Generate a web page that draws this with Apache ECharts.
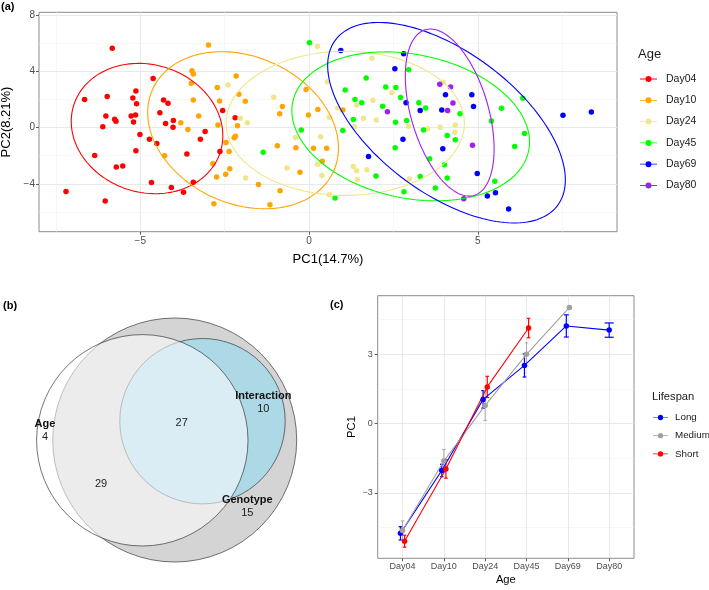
<!DOCTYPE html>
<html><head><meta charset="utf-8">
<script src="https://cdn.jsdelivr.net/npm/echarts@6/dist/echarts.min.js"></script>
<style>html,body{margin:0;padding:0;background:#fff}#c{width:709px;height:590px}</style>
</head><body><div id="c"></div>
<script>
// ---------- Panel (a): PCA scores ----------
const ageGroups = ['Day04','Day10','Day24','Day45','Day69','Day80'];
const ageColors = ['#FF0000','#FFA500','#F0E68C','#00FF00','#0000FF','#A020F0'];
const day04PC = [[-5.83,5.63],[-6.65,1.99],[-5.98,2.20],[-6.02,0.83],[-6.11,0.05],[-5.76,0.59],[-5.72,0.45],[-6.35,-1.99],[-5.71,-2.81],[-5.52,-2.74],[-7.20,-4.54],[-6.04,-5.22],[-5.13,2.60],[-5.22,2.10],[-5.11,1.70],[-5.27,0.83],[-5.14,0.90],[-5.20,0.40],[-5.01,-0.50],[-5.13,-1.65],[-4.62,3.48],[-4.31,1.96],[-4.18,1.73],[-4.42,1.06],[-4.25,0.28],[-4.02,0.50],[-4.03,0.02],[-4.73,-0.83],[-4.51,-1.13],[-4.67,-3.90],[-4.08,-4.26],[-3.72,-4.59],[-3.62,-1.87],[-2.56,1.21],[-2.19,0.69],[-3.08,-0.28],[-3.22,-0.83],[-2.64,-1.70],[-3.43,-3.88]];
const day10PC = [[-3.80,0.35],[-3.59,-0.14],[-4.28,-2.01],[-2.98,5.86],[-3.47,4.04],[-3.43,3.81],[-3.49,3.14],[-3.43,1.96],[-3.27,0.83],[-2.72,2.84],[-2.65,1.89],[-2.16,3.66],[-2.08,2.36],[-1.89,1.87],[-2.70,0.19],[-2.12,0.12],[-2.18,-0.61],[-2.22,-0.73],[-2.46,-1.06],[-2.37,-1.70],[-2.85,-2.58],[-2.74,-3.52],[-2.47,-3.31],[-2.35,-2.93],[-2.82,-5.41],[-1.50,-4.04],[-1.16,-5.48],[-0.86,-4.49],[-0.94,-1.30],[-0.79,1.49],[-0.87,0.99],[-0.27,-3.17],[-0.39,-1.44],[-0.09,2.70],[-0.02,0.90],[0.26,1.28],[0.13,-1.47],[0.52,-1.47],[0.39,-2.39],[1.00,1.25]];
const day24PC = [[-2.40,3.03],[-2.04,0.66],[-1.83,0.35],[-1.05,2.15],[-1.88,-3.59],[-0.65,-2.88],[-0.40,-0.71],[0.34,-0.66],[0.25,-2.60],[0.38,-3.40],[0.60,-4.78],[0.25,5.77],[0.54,3.25],[0.60,0.73],[1.86,4.92],[1.41,1.61],[0.85,1.39],[1.89,1.94],[2.45,2.48],[1.61,0.66],[1.99,0.54],[1.34,0.05],[2.94,0.09],[3.51,-0.09],[3.88,0.02],[4.33,0.19],[4.32,-0.33],[3.97,3.22],[4.14,1.16],[1.31,-2.77],[1.41,-3.07],[1.71,-3.00],[1.43,-3.69],[2.97,-3.66]];
const day45PC = [[-1.36,-1.75],[0.01,6.03],[-0.23,-0.17],[0.77,-5.01],[1.69,3.52],[1.07,2.67],[1.36,1.99],[1.56,1.77],[1.31,0.57],[1.00,-0.21],[2.27,2.88],[2.57,2.84],[2.71,2.13],[2.18,1.51],[2.56,0.38],[2.89,0.50],[3.25,1.77],[3.45,1.39],[2.55,-1.44],[3.39,-0.17],[3.57,-2.22],[4.01,-2.65],[4.09,-0.57],[4.33,-0.87],[4.47,0.99],[2.95,4.11],[1.98,-3.45],[2.81,-4.56],[3.29,-3.48],[3.74,-4.30],[4.09,-3.59],[6.33,2.08],[5.70,1.37],[5.40,0.47],[6.38,-0.43],[6.09,-1.35],[5.50,-3.81]];
const day69PC = [[0.94,5.48],[2.80,5.25],[2.54,4.18],[2.87,1.77],[3.29,1.21],[3.93,1.25],[4.04,2.34],[4.82,2.34],[4.87,1.49],[2.78,-0.83],[1.76,-2.06],[3.96,-1.51],[4.98,-3.26],[7.52,0.87],[8.36,1.11],[5.28,-4.87],[5.52,-4.63],[5.91,-5.79]];
const day80PC = [[3.87,3.07],[4.19,2.88],[4.26,1.75],[2.32,1.13],[4.10,1.21],[4.84,-1.25],[4.58,-5.06]];
const pcaScores = [day04PC, day10PC, day24PC, day45PC, day69PC, day80PC];
// 95% ellipses: centre, half extents, correlation
const ellipseCenterX = [-4.80, -1.955, 1.07, 3.01, 4.07, 4.165];
const ellipseCenterY = [-0.07, -0.19, 0.30, 0.085, 0.345, 1.065];
const ellipseHalfWidth = [2.245, 2.825, 3.53, 3.52, 3.52, 1.315];
const ellipseHalfHeight = [4.63, 5.58, 5.12, 5.29, 7.125, 5.935];
const ellipseCorr = [-0.11, -0.225, 0.0, -0.21, -0.57, -0.435];
const pcaXTicks = [-5, 0, 5];
const pcaYTicks = [-4, 0, 4, 8];
const pcaYMinor = [-6, -2, 2, 6];

// ---------- Panel (c): PC1 by age and lifespan ----------
const ageCategories = ['Day04','Day10','Day24','Day45','Day69','Day80'];
const lifespanGroups = ['Long','Medium','Short'];
const lifespanColors = ['#0000FF','#A0A0A0','#FF0000'];
const pc1Long = [-4.75, -2.03, 1.05, 2.52, 4.23, 4.05];
const pc1LongSE = [0.29, 0.27, 0.38, 0.50, 0.48, 0.31];
const pc1Medium = [-4.63, -1.62, 0.79, 3.00, 5.03, null];
const pc1MediumSE = [0.42, 0.50, 0.65, 0.50, null, null];
const pc1Short = [-5.09, -1.96, 1.59, 4.14, null, null];
const pc1ShortSE = [0.26, 0.40, 0.46, 0.42, null, null];
const pc1Ticks = [-3, 0, 3];
const categoryTicks = [0, 1, 2, 3, 4, 5];

// ---------- Panel (b): Venn ----------
const vennSetNames = ['Genotype', 'Interaction', 'Age'];
const vennCircleX = [17.47, 20.25, 14.23];
const vennCircleY = [14.00, 12.12, 14.03];
const vennCircleR = [12.20, 8.27, 10.57];
const vennFills = ['#d4d4d4', '#add8e6', 'rgba(255,255,255,0.55)'];
const vennRegionNames = ['Age', '', '', 'Interaction', 'Genotype'];
const vennRegionCounts = [4, 29, 27, 10, 15];
const vennLabelX = [4.5, 10.1, 18.17, 26.33, 24.73];
const vennLabelY = [13.04, 18.4, 12.3, 10.25, 20.67];

// ---------- build ----------
const FONT = 'Liberation Sans, Arial, Helvetica, sans-serif';
const minus = v => String(v).replace('-', '\u2212');
const majorGrid = {color: '#e6e6e6', width: 0.9};
const minorGrid = {color: '#f1f1f1', width: 0.6};
const iconPath = 'path://M0,2.6 L17,2.6 L17,3.4 L0,3.4 Z M5.5,3 A3,3 0 1,1 11.5,3 A3,3 0 1,1 5.5,3 Z';
const noLine = {show: false, onZero: false};

const series = [];
series.push({
  type: 'scatter', name: 'ygrid', xAxisIndex: 0, yAxisIndex: 0, data: [], z: 0, silent: true,
  markLine: {
    silent: true, z: 0, symbol: ['none','none'], label: {show: false}, animation: false,
    data: pcaYTicks.map(v => ({yAxis: v, lineStyle: {color: majorGrid.color, width: majorGrid.width, type: 'solid'}}))
      .concat(pcaYMinor.map(v => ({yAxis: v, lineStyle: {color: minorGrid.color, width: minorGrid.width, type: 'solid'}})))
  }
});
ageGroups.forEach((g, i) => {
  series.push({
    type: 'scatter', name: g, xAxisIndex: 0, yAxisIndex: 0, data: pcaScores[i],
    symbol: 'circle', symbolSize: 5.5, itemStyle: {color: ageColors[i], opacity: 1, borderWidth: 0}, color: ageColors[i], z: 3
  });
});
ageGroups.forEach((g, i) => {
  series.push({
    type: 'custom', name: g, xAxisIndex: 0, yAxisIndex: 0, z: 4, color: ageColors[i],
    encode: {x: 0, y: 1}, silent: true,
    data: [[ellipseCenterX[i], ellipseCenterY[i], ellipseHalfWidth[i], ellipseHalfHeight[i], ellipseCorr[i]]],
    renderItem: function (params, api) {
      const cx = api.value(0), cy = api.value(1), w = api.value(2), h = api.value(3), r = api.value(4);
      const s = Math.sqrt(1 - r * r);
      const pts = [];
      for (let k = 0; k <= 160; k++) {
        const t = k / 160 * 2 * Math.PI;
        pts.push(api.coord([cx + w * Math.cos(t), cy + h * (r * Math.cos(t) + s * Math.sin(t))]));
      }
      return {type: 'polyline', shape: {points: pts}, style: {stroke: ageColors[i], lineWidth: 1.1, fill: null}};
    }
  });
});

const pc1Values = [pc1Long, pc1Medium, pc1Short];
const pc1Errors = [pc1LongSE, pc1MediumSE, pc1ShortSE];
const dodgeWidth = 0.15;
function dodge(gi, ci) {
  const present = [];
  pc1Values.forEach((a, k) => { if (a[ci] != null) present.push(k); });
  const n = present.length, rank = present.indexOf(gi);
  return {off: (rank - (n - 1) / 2) * dodgeWidth / n, n: n};
}
lifespanGroups.forEach((g, gi) => {
  const pts = [], errs = [];
  ageCategories.forEach((c, ci) => {
    const v = pc1Values[gi][ci];
    if (v == null) return;
    const d = dodge(gi, ci);
    pts.push([ci + d.off, v]);
    const e = pc1Errors[gi][ci];
    if (e != null) errs.push([ci + d.off, v - e, v + e, 0.1 / d.n + 0.01]);
  });
  series.push({
    type: 'custom', name: g, xAxisIndex: 1, yAxisIndex: 1, z: 2, color: lifespanColors[gi], silent: true,
    encode: {x: 0, y: [1, 2]}, data: errs,
    renderItem: function (params, api) {
      const x = api.value(0), lo = api.value(1), hi = api.value(2), cap = api.value(3);
      const a = api.coord([x, lo]), b = api.coord([x, hi]);
      const cp = api.size([cap, 0])[0];
      const st = {stroke: lifespanColors[gi], lineWidth: gi === 1 ? 0.9 : 1.2};
      return {type: 'group', children: [
        {type: 'line', shape: {x1: a[0], y1: a[1], x2: b[0], y2: b[1]}, style: st},
        {type: 'line', shape: {x1: a[0] - cp, y1: a[1], x2: a[0] + cp, y2: a[1]}, style: st},
        {type: 'line', shape: {x1: b[0] - cp, y1: b[1], x2: b[0] + cp, y2: b[1]}, style: st}
      ]};
    }
  });
  series.push({
    type: 'line', name: g, xAxisIndex: 1, yAxisIndex: 1, data: pts, z: 3, color: lifespanColors[gi],
    symbol: 'circle', symbolSize: 5.5, showSymbol: true,
    lineStyle: {color: lifespanColors[gi], width: 1.1},
    itemStyle: {color: lifespanColors[gi], borderWidth: 0}
  });
});

series.push({
  type: 'custom', name: 'venn', xAxisIndex: 2, yAxisIndex: 2, silent: true, z: 2,
  encode: {x: 0, y: 1},
  data: vennSetNames.map((n, i) => [vennCircleX[i], vennCircleY[i], vennCircleR[i], i]),
  renderItem: function (params, api) {
    const c = api.coord([api.value(0), api.value(1)]);
    const r = api.size([api.value(2), 0])[0];
    const i = api.value(3);
    return {type: 'circle', shape: {cx: c[0], cy: c[1], r: r}, style: {fill: vennFills[i], stroke: '#3a3a3a', lineWidth: 0.7}};
  }
});
series.push({
  type: 'custom', name: 'vennLabels', xAxisIndex: 2, yAxisIndex: 2, silent: true, z: 4,
  encode: {x: 0, y: 1},
  data: vennRegionCounts.map((n, i) => [vennLabelX[i], vennLabelY[i], i]),
  renderItem: function (params, api) {
    const c = api.coord([api.value(0), api.value(1)]);
    const i = api.value(2);
    const nm = vennRegionNames[i];
    const txt = nm ? '{b|' + nm + '}\n{n|' + vennRegionCounts[i] + '}' : '{n|' + vennRegionCounts[i] + '}';
    return {type: 'text', x: c[0], y: c[1], style: {
      text: txt, align: 'center', verticalAlign: 'middle',
      rich: {
        b: {fontFamily: FONT, fontSize: 11, fontWeight: 'bold', fill: '#111', lineHeight: 12.5, align: 'center'},
        n: {fontFamily: FONT, fontSize: 11, fill: '#222', lineHeight: 12.5, align: 'center'}
      }
    }};
  }
});

const tickLabel = {fontFamily: FONT, color: '#4d4d4d'};
const option = {
  animation: false,
  backgroundColor: '#ffffff',
  textStyle: {fontFamily: FONT},
  title: [
    {text: '(a)', left: 1, top: 1, padding: 0, textStyle: {fontFamily: FONT, fontSize: 11, fontWeight: 'bold', color: '#000'}},
    {text: '(b)', left: 3, top: 300, padding: 0, textStyle: {fontFamily: FONT, fontSize: 11, fontWeight: 'bold', color: '#000'}},
    {text: '(c)', left: 330, top: 299, padding: 0, textStyle: {fontFamily: FONT, fontSize: 11, fontWeight: 'bold', color: '#000'}},
    {text: 'Age', left: 638, top: 48, padding: 0, textStyle: {fontFamily: FONT, fontSize: 13, fontWeight: 'normal', color: '#1a1a1a'}},
    {text: 'Lifespan', left: 652, top: 391, padding: 0, textStyle: {fontFamily: FONT, fontSize: 11.2, fontWeight: 'normal', color: '#1a1a1a'}}
  ],
  legend: [
    {data: ageGroups.map(n => ({name: n, icon: iconPath})), orient: 'vertical', left: 640, top: 73, padding: 0,
     itemWidth: 17, itemHeight: 6, itemGap: 9.3, selectedMode: false, itemStyle: {borderWidth: 0},
     textStyle: {fontFamily: FONT, fontSize: 10.5, color: '#1a1a1a', lineHeight: 12, padding: [0, 0, 0, 4]}},
    {data: lifespanGroups.map(n => ({name: n, icon: iconPath})), orient: 'vertical', left: 653, top: 411.5, padding: 0,
     itemWidth: 15, itemHeight: 5.5, itemGap: 6.2, selectedMode: false, itemStyle: {borderWidth: 0},
     textStyle: {fontFamily: FONT, fontSize: 9.8, color: '#1a1a1a', lineHeight: 12, padding: [0, 0, 0, 2]}}
  ],
  grid: [
    {left: 39, top: 12.3, width: 578, height: 219.4, show: true, borderColor: '#8c8c8c', borderWidth: 1, outerBoundsMode: 'none', containLabel: false},
    {left: 377.7, top: 295.7, width: 256.3, height: 262.6, show: true, borderColor: '#8c8c8c', borderWidth: 1, outerBoundsMode: 'none', containLabel: false},
    {left: 0, top: 300, width: 330, height: 290, show: false, outerBoundsMode: 'none', containLabel: false}
  ],
  xAxis: [
    {gridIndex: 0, type: 'value', min: -8.0, max: 9.12, splitNumber: 3,
     name: 'PC1(14.7%)', nameLocation: 'middle', nameGap: 21, nameTextStyle: {fontFamily: FONT, fontSize: 13, color: '#000'},
     axisLine: noLine,
     axisTick: {show: true, customValues: pcaXTicks, length: 3, lineStyle: {color: '#333', width: 0.8}},
     axisLabel: {customValues: pcaXTicks, formatter: minus, margin: 5, fontSize: 10, ...tickLabel},
     splitLine: {show: true, lineStyle: majorGrid},
     minorTick: {show: false, splitNumber: 2},
     minorSplitLine: {show: true, lineStyle: minorGrid}},
    {gridIndex: 1, type: 'value', min: -0.6, max: 5.6, splitNumber: 6,
     name: 'Age', nameLocation: 'middle', nameGap: 16, nameTextStyle: {fontFamily: FONT, fontSize: 11.2, color: '#000'},
     axisLine: noLine,
     axisTick: {show: true, customValues: categoryTicks, length: 3, lineStyle: {color: '#333', width: 0.8}},
     axisLabel: {customValues: categoryTicks, formatter: v => ageCategories[Math.round(v)] || '', margin: 4, fontSize: 9, ...tickLabel},
     splitLine: {show: true, lineStyle: majorGrid},
     minorSplitLine: {show: false}},
    {gridIndex: 2, type: 'value', min: 0, max: 33, show: false, axisLine: noLine}
  ],
  yAxis: [
    {gridIndex: 0, type: 'value', min: -7.4, max: 8.19,
     name: 'PC2(8.21%)', nameLocation: 'middle', nameGap: 19, nameTextStyle: {fontFamily: FONT, fontSize: 13, color: '#000'},
     axisLine: noLine,
     axisTick: {show: true, customValues: pcaYTicks, length: 3, lineStyle: {color: '#333', width: 0.8}},
     axisLabel: {customValues: pcaYTicks, formatter: minus, margin: 4, fontSize: 10, ...tickLabel},
     splitLine: {show: false}, minorSplitLine: {show: false}},
    {gridIndex: 1, type: 'value', min: -5.83, max: 5.54, splitNumber: 4,
     name: 'PC1', nameLocation: 'middle', nameGap: 20, nameTextStyle: {fontFamily: FONT, fontSize: 11.2, color: '#000'},
     axisLine: noLine,
     axisTick: {show: true, customValues: pc1Ticks, length: 3, lineStyle: {color: '#333', width: 0.8}},
     axisLabel: {customValues: pc1Ticks, formatter: minus, margin: 5, fontSize: 9, ...tickLabel},
     splitLine: {show: true, lineStyle: majorGrid},
     minorTick: {show: false, splitNumber: 2},
     minorSplitLine: {show: true, lineStyle: minorGrid}},
    {gridIndex: 2, type: 'value', min: 0, max: 29, inverse: true, show: false, axisLine: noLine}
  ],
  series: series
};
const chart = echarts.init(document.getElementById('c'), null, {renderer: 'canvas'});
chart.setOption(option);
</script></body></html>
